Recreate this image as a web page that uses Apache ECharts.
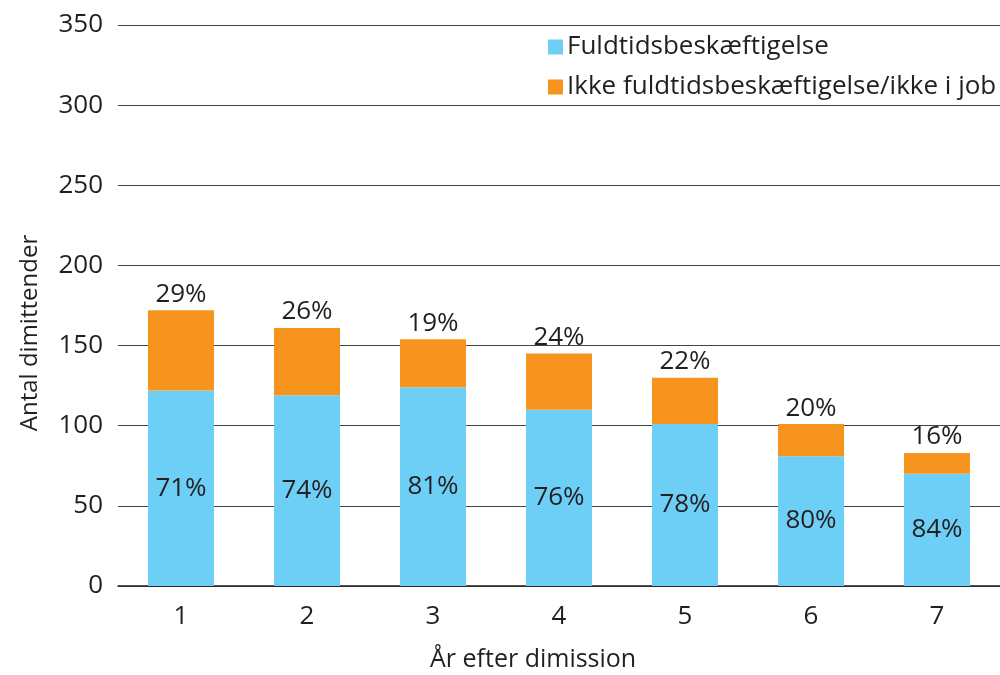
<!DOCTYPE html>
<html><head><meta charset="utf-8">
<script src="https://cdn.jsdelivr.net/npm/echarts@6/dist/echarts.min.js"></script>
<style>html,body{margin:0;padding:0;background:#fff}#c{width:1000px;height:675px}</style>
</head><body><div id="c"></div>
<script>
var categories = ['1','2','3','4','5','6','7'];
var fullTime = [122, 119, 124, 110, 101, 81, 70];
var notFullTime = [50, 42, 30, 35, 29, 20, 13];
var pctFull = ['71%','74%','81%','76%','78%','80%','84%'];
var pctNot = ['29%','26%','19%','24%','22%','20%','16%'];
var seriesNames = ['Fuldtidsbeskæftigelse','Ikke fuldtidsbeskæftigelse/ikke i job'];
var xTitle = 'År efter dimission';
var yTitle = 'Antal dimittender';

var FONT = 'Open Sans';
var FS = 26;
var TXT = '#231f20';
var chart = echarts.init(document.getElementById('c'));
chart.setOption({
  animation: false,
  textStyle: {fontFamily: FONT},
  grid: {left: 118, right: 0, top: 25, bottom: 89},
  legend: {
    left: 543, top: 29, orient: 'vertical', itemGap: 14,
    itemWidth: 15, itemHeight: 15, icon: 'rect', align: 'left',
    textStyle: {fontFamily: FONT, fontSize: FS, color: TXT, padding: [0,0,0,-1]},
    data: seriesNames
  },
  xAxis: {
    type: 'category', data: categories,
    axisLine: {lineStyle: {color: '#231f20', width: 1.5}},
    axisTick: {show: false},
    axisLabel: {fontSize: FS, color: TXT, margin: 18, fontFamily: FONT}
  },
  yAxis: {
    type: 'value', min: 0, max: 350, interval: 50,
    axisLine: {show: false}, axisTick: {show: false},
    splitLine: {lineStyle: {color: '#444', width: 1.2}},
    axisLabel: {fontSize: FS, color: TXT, margin: 15, fontFamily: FONT}
  },
  graphic: [
    {type: 'text', left: 430, top: 647, style: {text: xTitle, font: '25px ' + FONT, fill: TXT}},
    {type: 'text', x: 30, y: 333, rotation: Math.PI/2, style: {text: yTitle, font: '24px ' + FONT, fill: TXT, align: 'center', verticalAlign: 'middle'}}
  ],
  series: [
    {name: seriesNames[0], type: 'bar', stack: 's', data: fullTime, barWidth: 66,
     itemStyle: {color: '#6dcff6'},
     label: {show: true, position: 'inside', fontSize: FS, color: TXT, fontFamily: FONT,
       formatter: function(p){return pctFull[p.dataIndex];}}},
    {name: seriesNames[1], type: 'bar', stack: 's', data: notFullTime, barWidth: 66,
     itemStyle: {color: '#f7941d'},
     label: {show: true, position: 'top', distance: 3, fontSize: FS, color: TXT, fontFamily: FONT,
       formatter: function(p){return pctNot[p.dataIndex];}}}
  ]
});
</script></body></html>
